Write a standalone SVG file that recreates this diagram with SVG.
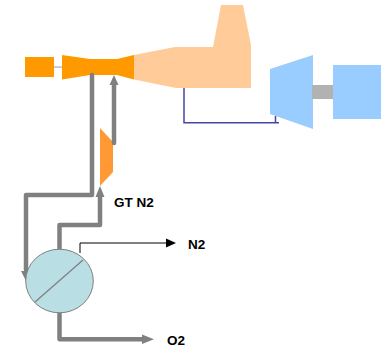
<svg xmlns="http://www.w3.org/2000/svg" width="383" height="350" viewBox="0 0 383 350">
<style>
.pipe{fill:none;stroke:#808080;stroke-width:4.500;stroke-linejoin:round;stroke-linecap:round}
.ah{fill:#808080}
.lbl{font-family:"Liberation Sans",Arial,sans-serif;font-size:13.500px;font-weight:bold;fill:#000}
.o{fill:#ff9900}
.p{fill:#ffcc99}
.b{fill:#99ccff}
</style>
<rect width="383" height="350" fill="#fff"/>
<g id="combustor-link"><rect x="54" y="66.300" width="8" height="1.600" fill="#c0c0c0"/></g>
<g id="gas-turbine-exhaust"><path class="p" d="M134 55L175 47H213L221 5H243L251 45V88H176L134 79.500Z"/></g>
<g id="gas-turbine-inlet"><rect class="o" x="25" y="57" width="29" height="20"/></g>
<g id="gas-turbine-nozzle"><path class="o" d="M62 55L90 59H117L134 55V79.500L117 75H90L62 79.500Z"/></g>
<g id="n2-compressor"><path d="M100 128L113 142V172L100 186Z" fill="#ff9933"/></g>
<g id="steam-turbine"><path class="b" d="M270 69L313 55V129L270 114Z"/></g>
<g id="shaft"><rect x="312" y="85" width="21" height="14" fill="#b2b2b2"/></g>
<g id="generator"><rect class="b" x="333" y="65" width="48" height="54"/></g>
<g id="connectors">
<path d="M184 88V122.800H279M275.500 122.800V116" fill="none" stroke="#4646a8" stroke-width="1.500"/>
<path class="pipe" d="M92 75V195H26V270"/>
<path class="ah" d="M21 271H31L26 281Z"/>
<path class="pipe" d="M114 143V85"/>
<path class="ah" d="M109.500 85H118.500L114 75Z"/>
<path class="pipe" d="M59.500 250V225H100V196"/>
<path class="ah" d="M95.500 197H104.500L100 186Z"/>
<path class="pipe" d="M59.500 313V339.300H143"/>
<path class="ah" d="M142 334.500V344L154 339.300Z"/>
<path d="M80 253V243H167" fill="none" stroke="#000" stroke-width="1"/>
<path d="M166 238.500V247.500L176 243Z" fill="#000"/>
</g>
<g id="separator">
<ellipse cx="59.500" cy="281" rx="33.800" ry="31.800" fill="#b9dfe4" stroke="#808080" stroke-width="1"/>
<path d="M35 302L83 260" stroke="#808080" stroke-width="1.300" fill="none"/>
</g>
<g id="labels">
<text class="lbl" x="114" y="207">GT N2</text>
<text class="lbl" x="188" y="249">N2</text>
<text class="lbl" x="167" y="345">O2</text>
</g>
</svg>
